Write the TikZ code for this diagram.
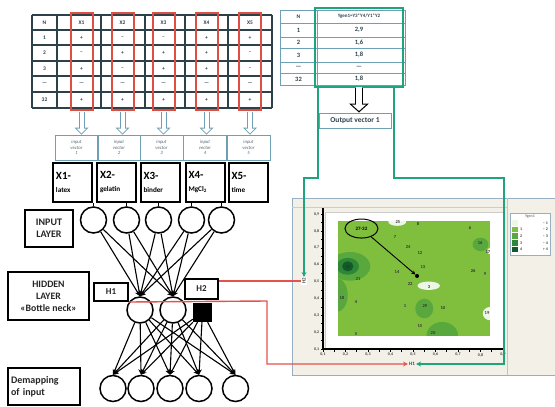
\documentclass[tikz,border=0pt]{standalone}
\usepackage{fontspec}
\setmainfont{Carlito}
\usetikzlibrary{arrows.meta,shapes.geometric,positioning}
\definecolor{tabline}{RGB}{45,65,75}
\definecolor{tabred}{RGB}{222,78,66}
\definecolor{ivblue}{RGB}{110,160,180}
\definecolor{linkgreen}{RGB}{30,165,125}
\definecolor{linkred}{RGB}{228,82,76}
\definecolor{winfill}{RGB}{243,240,232}
\definecolor{winline}{RGB}{150,175,195}
\definecolor{cgA}{RGB}{238,246,232}
\definecolor{cgB}{RGB}{128,190,62}
\definecolor{cgC}{RGB}{88,168,62}
\definecolor{cgD}{RGB}{45,135,55}
\definecolor{cgE}{RGB}{18,90,40}
\begin{document}
\begin{tikzpicture}[x=1pt,y=-1pt,font=\bfseries,
  cell/.style={font=\fontsize{5.5}{6}\selectfont\bfseries,text=tabline,inner sep=0pt},
  redcol/.style={draw=tabred,line width=2pt,minimum width=22pt,minimum height=97pt,inner sep=0pt},
  ivbox/.style={draw=ivblue,line width=.7pt,minimum width=43pt,minimum height=25pt,inner sep=0pt,align=center,font=\fontsize{4.8}{5.5}\selectfont\itshape,text=tabline!80},
  xbox/.style={draw,line width=2pt,minimum width=39pt,minimum height=39pt,text width=33pt,align=left,inner sep=2pt},
  lbox/.style={draw,line width=2pt,align=center,inner sep=1pt,font=\fontsize{10}{11.5}\selectfont\bfseries,text=black!85},
  neuron/.style={circle,draw,line width=1.5pt,minimum size=26pt,inner sep=0pt},
  wire/.style={line width=1.1pt,-{Stealth[length=5.5pt,width=5pt]}},
  hollowout/.style={line width=6pt,draw=ivblue,shorten <=1pt,-{Triangle[length=7pt,width=14pt,line width=0pt]}},
  hollowin/.style={line width=4pt,draw=white,shorten <=1pt,shorten >=1.4pt,-{Triangle[length=4.6pt,width=9.2pt,line width=0pt]}},
  bigout/.style={line width=8pt,draw=black,-{Triangle[length=9pt,width=20pt,line width=0pt]}},
  bigin/.style={line width=5.6pt,draw=white,shorten <=-1pt,shorten >=1.6pt,-{Triangle[length=6.2pt,width=13.8pt,line width=0pt]}},
  num/.style={font=\fontsize{4.5}{5}\selectfont\bfseries,text=black!80,inner sep=.5pt},
  ticklbl/.style={font=\fontsize{4}{5}\selectfont\bfseries,text=black!75,inner sep=1pt},
  greenline/.style={linkgreen,line width=1.4pt,-{Stealth[length=5pt,width=5pt]}},
  redline/.style={linkred,line width=1.4pt}]
\useasboundingbox (0,0) rectangle (555,407);
% input data table
\foreach \y in {15,30,45,61,76,92,108} \draw[tabline,line width=1.3pt] (32,\y)--(272,\y);
\foreach \x in {32,57,101,145,185,228,272} \draw[tabline,line width=1.3pt] (\x,15)--(\x,108);
\foreach \r/\y/\a/\b/\c/\d/\e/\f in {0/22.5/N/X1/X2/X3/X4/X5,1/37.5/1/+/--/--/+/+,2/53/2/--/+/+/+/--,3/68.5/3/+/--/+/+/--,4/84/---/---/---/---/---/---,5/100/32/+/+/+/+/+}{
  \node[cell] (L\r-0) at (44.5,\y) {\a}; \node[cell] (L\r-1) at (81.5,\y) {\b};
  \node[cell] (L\r-2) at (122.5,\y) {\c}; \node[cell] (L\r-3) at (163.5,\y) {\d};
  \node[cell] (L\r-4) at (206.5,\y) {\e}; \node[cell] (L\r-5) at (250,\y) {\f};}
\foreach \i/\x in {1/81.5,2/122.5,3/163.5,4/206.5,5/250} \node[redcol] (col\i) at (\x,61.5) {};
% input vectors and variables
\foreach \i/\x in {1/76.5,2/119,3/161.5,4/205,5/248.5} \node[ivbox] (iv\i) at (\x,147.5) {input\\vector\\\i};
\foreach \i in {1,...,5} {\draw[hollowout] (col\i.south) -- (col\i.south |- iv\i.north); \draw[hollowin] (col\i.south) -- (col\i.south |- iv\i.north);}
\foreach \i/\x/\t in {1/72.5/latex,2/116.5/gelatin,3/160/binder,4/205/MgCl\textsubscript{2},5/248/time}
  \node[xbox] (xb\i) at (\x,182.5) {{\fontsize{11}{12}\selectfont X\i-}\\[1pt]{\fontsize{7.2}{8}\selectfont \t}};
% network
\foreach \i/\x in {1/93.5,2/126.5,3/158.5,4/191.5,5/221.5} \node[neuron] (in\i) at (\x,220) {};
\foreach \i in {1,...,5} \draw[line width=1.2pt] (in\i.north) -- (in\i.north |- xb1.south);
\node[neuron] (h1) at (140,310) {}; \node[neuron] (h2) at (173,310) {};
\node[fill=black,minimum size=19pt,inner sep=0pt] (bias) at (202.5,312.5) {};
\foreach \i/\x in {1/113,2/141,3/170,4/199,5/235.5} \node[neuron] (out\i) at (\x,388.5) {};
\foreach \i in {1,...,5} \foreach \j in {1,2} \draw[wire] (in\i) -- (h\j.north);
\foreach \j in {h1,h2,bias} \foreach \k in {1,...,5} \draw[wire] (\j) -- (out\k.north);
\node[lbox,minimum width=48pt,minimum height=37pt] (inlay) at (49,228.5) {INPUT\\LAYER};
\node[lbox,minimum width=81pt,minimum height=48pt,font=\fontsize{9.8}{12}\selectfont\bfseries] (hidlay) at (48.5,296) {HIDDEN\\LAYER\\«Bottle neck»};
\node[lbox,minimum width=72pt,minimum height=37pt,text width=66pt,align=left,font=\fontsize{10}{12}\selectfont\bfseries] (demap) at (44,386.5) {Demapping\\of input};
\node[lbox,minimum width=34pt,minimum height=18pt,font=\fontsize{9}{10}\selectfont\bfseries] (h1lbl) at (111,292) {H1};
\node[lbox,minimum width=33pt,minimum height=20pt,font=\fontsize{9}{10}\selectfont\bfseries] (h2lbl) at (201.5,289) {H2};
% output table
\draw[ivblue,line width=1pt] (280,10) rectangle (405,85);
\foreach \y in {23,37,48,62,73} \draw[ivblue,line width=1pt] (280,\y)--(405,\y);
\draw[ivblue,line width=1pt] (317,10)--(317,85);
\node[cell] (R0-0) at (298.5,16.5) {N}; \node[cell,font=\fontsize{5}{6}\selectfont\bfseries] (R0-1) at (359,16.5) {Ygen1=Y3*Y4/Y1*Y2};
\foreach \r/\y/\a/\b in {1/30/1/{2,9},2/42.5/2/{1,6},3/55/3/{1,8},4/67.5/---/---,5/79/32/{1,8}}{
  \node[cell,font=\fontsize{6.5}{7}\selectfont\bfseries] (R\r-0) at (298.5,\y) {\a}; \node[cell,font=\fontsize{6.5}{7}\selectfont\bfseries] (R\r-1) at (359,\y) {\b};}
\node[draw=linkgreen,line width=1.4pt,minimum width=88pt,minimum height=79pt,inner sep=0pt] (ygbox) at (359,47.5) {};
\node[draw=ivblue,line width=1pt,minimum width=72pt,minimum height=15pt,font=\fontsize{7.5}{8}\selectfont\bfseries,text=tabline] (outvec) at (355,120.5) {Output vector 1};
\draw[bigout] (ygbox.south) -- (ygbox.south |- outvec.north);
\draw[bigin] (ygbox.south) -- (ygbox.south |- outvec.north);
% map window
\draw[winline,fill=winfill,line width=.8pt] (292,198) rectangle (556,375);
\draw[winline!60,line width=.6pt] (292,207)--(507,207);
\draw[winline!70,line width=.6pt] (507,198)--(507,375);
\node[draw=winline,fill=white,line width=.5pt,minimum width=40pt,minimum height=42pt] (legbox) at (530,234) {};
\node[ticklbl,text=gray] (legtit) at (530,217) {Ygen1};
\foreach \i/\c/\a/\b in {0/cgA//{-- 1},1/cgB/1/{-- 2},2/cgC/2/{-- 3},3/cgD/3/{-- 4},4/cgE/4/{> 4}}{
  \node[fill=\c,minimum size=5.5pt,inner sep=0pt] (sw\i) at (515,223+6.6*\i) {};
  \node[ticklbl,right=1pt of sw\i] (swa\i) {\a};
  \node[ticklbl,anchor=east] (swb\i) at (549,223+6.6*\i) {\b};}
\begin{scope}[shift={(300.5,365.9)},x=225pt,y=168.75pt]
  \draw[fill=white,draw=gray!40,line width=.5pt] (0.109,0.106) rectangle (0.9,0.911);
  \begin{scope}
    \clip (0.167,0.183) rectangle (0.842,0.853);
    \fill[cgB] (0.16,0.18) rectangle (0.85,0.86);
    \fill[cgC] (0.22,0.59) ellipse (0.09 and 0.085);
    \fill[cgD] (0.21,0.59) ellipse (0.05 and 0.05);
    \fill[cgE] (0.21,0.59) ellipse (0.025 and 0.03);
    \fill[cgC] (0.16,0.42) ellipse (0.05 and 0.1);
    \fill[cgC] (0.55,0.34) ellipse (0.04 and 0.058);
    \fill[cgC] (0.63,0.18) ellipse (0.07 and 0.08);
    \fill[cgC] (0.8,0.72) ellipse (0.035 and 0.04);
    \fill[cgA] (0.43,0.855) ellipse (0.04 and 0.025);
    \fill[cgA] (0.57,0.475) ellipse (0.05 and 0.025);
    \fill[cgA] (0.845,0.31) ellipse (0.035 and 0.04);
    \fill[cgA] (0.845,0.68) ellipse (0.015 and 0.02);
  \end{scope}
  \draw[line width=1.2pt] (0.1,0.935) -- (0.1,0.1) -- (0.9,0.1);
  \foreach \t in {0.1,0.15,...,0.91} {\draw[line width=.6pt] (0.1,\t) -- ++(-0.01,0); \draw[line width=.6pt] (\t,0.1) -- ++(0,-0.015);}
  \foreach \v in {1,...,9} {\node[ticklbl,anchor=east] (yt\v) at (0.088,\v/10) {0,\v}; \node[ticklbl,anchor=north] (xt\v) at (\v/10,0.082) {0,\v};}
  \foreach \u/\v/\t [count=\i] in {0.433/0.85/25,0.522/0.84/8,0.753/0.817/6,0.42/0.764/7,0.478/0.704/24,0.531/0.669/12,0.798/0.728/16,0.833/0.675/17,0.211/0.586/30,0.544/0.586/13,0.429/0.556/14,0.767/0.562/26,0.82/0.544/9,0.256/0.515/21,0.487/0.485/22,0.571/0.467/3,0.184/0.402/18,0.247/0.378/4,0.464/0.355/1,0.553/0.355/29,0.633/0.343/10,0.829/0.313/19,0.531/0.236/15,0.589/0.195/20,0.247/0.189/5}
    \node[num] (pt\i) at (\u,\v) {\t};
  \node[ellipse,draw,line width=1pt,minimum width=33pt,minimum height=19pt,inner sep=0pt,font=\fontsize{5}{6}\selectfont\bfseries] (grp) at (0.271,0.814) {27-32};
  \node[circle,fill,inner sep=0pt,minimum size=4pt] (pt28) at (0.518,0.533) {};
  \draw[line width=.9pt,-{Stealth[length=4pt,width=4pt]}] (grp) -- (pt28);
\end{scope}
\node[ticklbl,font=\fontsize{5}{6}\selectfont\bfseries] (axh1) at (412,364) {H1};
\node[ticklbl,font=\fontsize{5}{6}\selectfont\bfseries,fill=white,rotate=90] (axh2) at (304,281) {H2};
% links to the map
\coordinate (gl1) at (318,178); \coordinate (gr1) at (394,178); \coordinate (gr2) at (504,178); \coordinate (rbend) at (267,301);
\draw[greenline] (ygbox.south -| gl1) -- (gl1) -| (axh2);
\draw[greenline] (ygbox.south -| gr1) -- (gr1) -- (gr2) |- (axh1);
\draw[redline] (h2lbl.east |- axh2) -- (axh2);
\draw[redline,-{Stealth[length=5pt,width=5pt]}] (h1lbl.south east) -- (rbend) |- (axh1);
\end{tikzpicture}
\end{document}
